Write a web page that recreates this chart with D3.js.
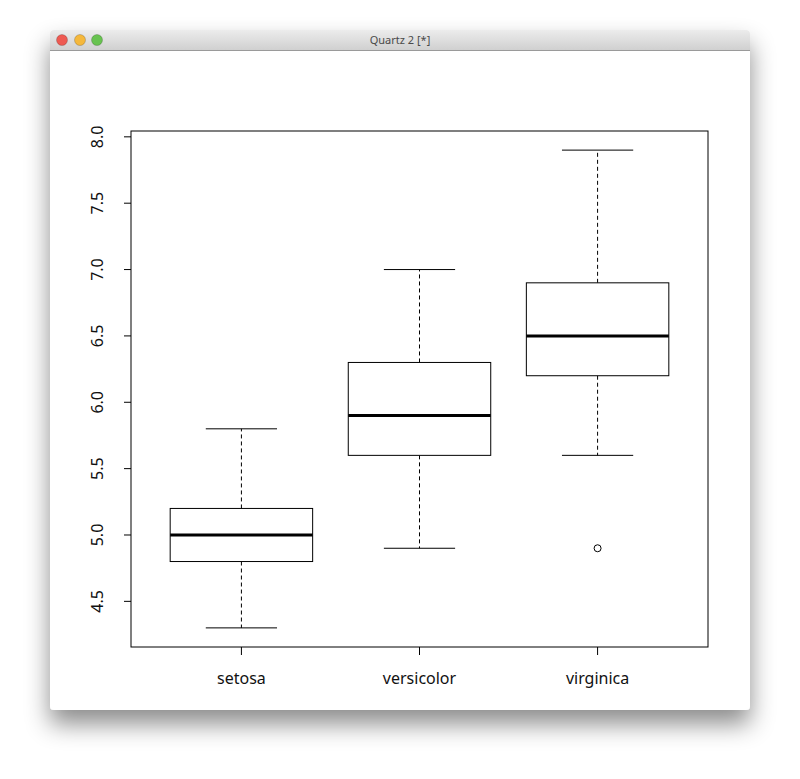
<!DOCTYPE html>
<html>
<head>
<meta charset="utf-8">
<script src="https://cdn.jsdelivr.net/npm/d3@7"></script>
<style>
  body { margin: 0; background: #fff; }
  text { font-family: "Noto Sans", "Liberation Sans", sans-serif; }
</style>
</head>
<body>
<svg id="chart" width="800" height="779"></svg>
<script>
// iris Sepal.Length by species
var species = ["setosa", "versicolor", "virginica"];
var mins = [4.3, 4.9, 5.6];
var q1s = [4.8, 5.6, 6.2];
var medians = [5.0, 5.9, 6.5];
var q3s = [5.2, 6.3, 6.9];
var maxs = [5.8, 7.0, 7.9];
var outliers = [[], [], [4.9]];
var yTicks = [4.5, 5.0, 5.5, 6.0, 6.5, 7.0, 7.5, 8.0];

var svg = d3.select("#chart");
var defs = svg.append("defs");
var f = defs.append("filter").attr("id", "shadow").attr("x", "-20%").attr("y", "-20%").attr("width", "140%").attr("height", "150%");
f.append("feDropShadow").attr("dx", 0).attr("dy", 14).attr("stdDeviation", 12).attr("flood-color", "#000").attr("flood-opacity", 0.45);
var grad = defs.append("linearGradient").attr("id", "titlebar").attr("x1", 0).attr("y1", 0).attr("x2", 0).attr("y2", 1);
grad.append("stop").attr("offset", "0%").attr("stop-color", "#ececec");
grad.append("stop").attr("offset", "100%").attr("stop-color", "#d0d0d0");

// window frame
svg.append("rect").attr("x", 50).attr("y", 30).attr("width", 700).attr("height", 680)
    .attr("rx", 4).attr("fill", "#fff").attr("filter", "url(#shadow)");
svg.append("path").attr("d", "M50,50 V34 Q50,30 54,30 H746 Q750,30 750,34 V50 Z").attr("fill", "url(#titlebar)");
svg.append("line").attr("x1", 50).attr("x2", 750).attr("y1", 50.5).attr("y2", 50.5).attr("stroke", "#9a9a9a");
[["#ee5a52", 62], ["#f5b83c", 80], ["#68c350", 97]].forEach(function (b) {
    svg.append("circle").attr("cx", b[1]).attr("cy", 40).attr("r", 5.5).attr("fill", b[0])
        .attr("stroke", "rgba(0,0,0,0.3)").attr("stroke-width", 0.6);
});
svg.append("text").attr("x", 400).attr("y", 44).attr("text-anchor", "middle")
    .attr("font-size", 11).attr("fill", "#4a4a4a").text("Quartz 2 [*]");

// scales, R style with 4% padding
var x = d3.scaleLinear().domain([0.38, 3.62]).range([131, 708]);
var y = d3.scaleLinear().domain([4.156, 8.044]).range([647, 131]);
var halfBox = 0.4, halfCap = 0.2;

var g = svg.append("g").attr("stroke", "#000").attr("fill", "none");

species.forEach(function (s, i) {
    var c = x(i + 1);
    var bw = x(1 + halfBox) - x(1), cw = x(1 + halfCap) - x(1);
    // whiskers
    g.append("line").attr("x1", c).attr("x2", c).attr("y1", y(q1s[i])).attr("y2", y(mins[i])).attr("stroke-dasharray", "4,3");
    g.append("line").attr("x1", c).attr("x2", c).attr("y1", y(q3s[i])).attr("y2", y(maxs[i])).attr("stroke-dasharray", "4,3");
    g.append("line").attr("x1", c - cw).attr("x2", c + cw).attr("y1", y(mins[i])).attr("y2", y(mins[i]));
    g.append("line").attr("x1", c - cw).attr("x2", c + cw).attr("y1", y(maxs[i])).attr("y2", y(maxs[i]));
    // box
    g.append("rect").attr("x", c - bw).attr("width", 2 * bw)
        .attr("y", y(q3s[i])).attr("height", y(q1s[i]) - y(q3s[i])).attr("fill", "#fff");
    g.append("line").attr("x1", c - bw).attr("x2", c + bw).attr("y1", y(medians[i])).attr("y2", y(medians[i]))
        .attr("stroke-width", 3);
    outliers[i].forEach(function (v) {
        g.append("circle").attr("cx", c).attr("cy", y(v)).attr("r", 3.5);
    });
});

// plot frame
g.append("rect").attr("x", 131).attr("y", 131).attr("width", 577).attr("height", 516);

// y axis
yTicks.forEach(function (t) {
    g.append("line").attr("x1", 124).attr("x2", 131).attr("y1", y(t)).attr("y2", y(t));
    svg.append("text").attr("transform", "translate(103," + y(t) + ") rotate(-90)")
        .attr("text-anchor", "middle").attr("font-size", 16).attr("fill", "#111").text(t.toFixed(1));
});

// x axis
species.forEach(function (s, i) {
    g.append("line").attr("x1", x(i + 1)).attr("x2", x(i + 1)).attr("y1", 647).attr("y2", 655);
    svg.append("text").attr("x", x(i + 1)).attr("y", 684).attr("text-anchor", "middle")
        .attr("font-size", 16).attr("fill", "#111").text(s);
});
</script>
</body>
</html>
